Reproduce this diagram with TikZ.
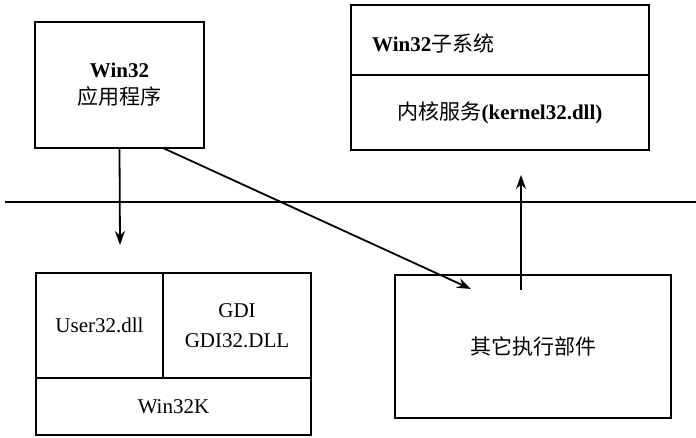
\documentclass[tikz,border=0pt]{standalone}
\usepackage{fontspec}
\setmainfont{Liberation Serif}
\newfontfamily\cjk{Noto Sans CJK SC}
\usetikzlibrary{arrows.meta}
\begin{document}
\begin{tikzpicture}[x=1pt,y=-1pt,
  box/.style={draw,line width=1.8pt,inner sep=0pt,align=center,
    font=\fontsize{21}{30}\selectfont},
  conn/.style={line width=1.8pt},
  arr/.style={line width=1.8pt,-{Stealth[length=14pt,width=10pt]}}]
\useasboundingbox (0,0) rectangle (696,437);
% Win32 application
\node[box,minimum width=169pt,minimum height=126pt] (app) at (119.5,85)
  {\textbf{Win32}\\[-3pt]{\cjk 应用程序}};
% Win32 subsystem
\node[box,minimum width=298pt,minimum height=70pt] (sub) at (500,40) {};
\node[box,minimum width=298pt,minimum height=75pt] (kern) at (500,112.5)
  {{\cjk 内核服务}\textbf{(kernel32.dll)}};
\node[anchor=west,inner sep=0pt,font=\fontsize{21}{25}\selectfont] (subt) at (372,43)
  {\textbf{Win32}{\cjk 子系统}};
% bottom-left block
\node[box,minimum width=127pt,minimum height=105pt] (user) at (99.5,325.5) {User32.dll};
\node[box,minimum width=148pt,minimum height=105pt] (gdi) at (237,325.5)
  {GDI\\GDI32.DLL};
\node[box,minimum width=275pt,minimum height=57pt] (wk) at (173.5,406.5) {Win32K};
% other executive components
\node[box,minimum width=276pt,minimum height=143pt] (oth) at (533,346.5)
  {{\cjk 其它执行部件}};
% boundary line
\coordinate (bl) at (5,202);
\coordinate (br) at (696,202);
\draw[conn] (bl) -- (br);
% connectors
\coordinate (dtip) at (120,245);
\draw[arr] (app.south) -- (dtip);
\coordinate (dstart) at (163,148);
\coordinate (dend) at (471,289);
\draw[arr] (dstart) -- (dend);
\coordinate (ustart) at (521,290);
\coordinate (utip) at (521,175);
\draw[arr] (ustart) -- (utip);
\end{tikzpicture}
\end{document}
